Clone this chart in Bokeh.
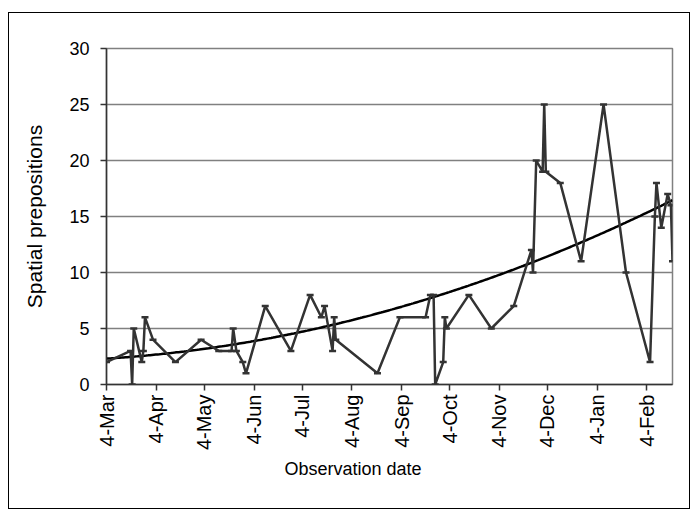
import numpy as np
import pandas as pd
from bokeh.plotting import figure
from bokeh.models import FixedTicker, Range1d, Title
from bokeh.embed import file_html
from bokeh.resources import INLINE

# ---- data ----
dates = [
    "2004-03-04", "2004-03-19", "2004-03-20", "2004-03-21", "2004-03-26", "2004-03-27",
    "2004-03-28", "2004-04-02", "2004-04-16", "2004-05-02", "2004-05-13", "2004-05-21",
    "2004-05-22", "2004-05-24", "2004-05-28", "2004-05-30", "2004-06-11", "2004-06-27",
    "2004-07-09", "2004-07-16", "2004-07-18", "2004-07-23", "2004-07-24", "2004-07-25",
    "2004-08-20", "2004-09-03", "2004-09-19", "2004-09-22", "2004-09-24", "2004-09-25",
    "2004-09-30", "2004-10-01", "2004-10-02", "2004-10-16", "2004-10-30", "2004-11-13",
    "2004-11-24", "2004-11-25", "2004-11-27", "2004-12-01", "2004-12-02", "2004-12-03",
    "2004-12-12", "2004-12-25", "2005-01-08", "2005-01-22", "2005-02-06", "2005-02-09",
    "2005-02-10", "2005-02-13", "2005-02-17", "2005-02-19", "2005-02-20",
]
counts = [
    2, 3, 0, 5, 2, 3,
    6, 4, 2, 4, 3, 3,
    5, 3, 2, 1, 7, 3,
    8, 6, 7, 3, 6, 4,
    1, 6, 6, 8, 8, 0,
    2, 6, 5, 8, 5, 7,
    12, 10, 20, 19, 25, 19,
    18, 11, 25, 10, 2, 15,
    18, 14, 17, 16, 11,
]
tick_dates = ["2004-03-04", "2004-04-04", "2004-05-04", "2004-06-04", "2004-07-04",
              "2004-08-04", "2004-09-04", "2004-10-04", "2004-11-04", "2004-12-04",
              "2005-01-04", "2005-02-04"]
tick_labels = ["4-Mar", "4-Apr", "4-May", "4-Jun", "4-Jul", "4-Aug", "4-Sep",
               "4-Oct", "4-Nov", "4-Dec", "4-Jan", "4-Feb"]
y_ticks = [0, 5, 10, 15, 20, 25, 30]
x_title = "Observation date"
y_title = "Spatial prepositions"

# ---- conversions ----
DAY_MS = 86400000.0
def to_ms(s):
    return pd.Timestamp(s).value / 1e6

x = np.array([to_ms(d) for d in dates])
y = np.array(counts, dtype=float)
tx = [to_ms(d) for d in tick_dates]

# polynomial (order 2) trendline fitted on the data
xd = (x - x[0]) / DAY_MS
coef = np.polyfit(xd, y, 2)
xt_days = np.linspace(xd.min(), xd.max(), 300)
yt = np.polyval(coef, xt_days)
xt = x[0] + xt_days * DAY_MS

FONT = "Liberation Sans"
DARK = "#333333"

p = figure(width=682, height=497, output_backend="svg", toolbar_location=None,
           x_range=Range1d(x.min(), x.max()), y_range=Range1d(0, 30))
p.min_border_left = 97
p.min_border_top = 35
p.min_border_right = 19
p.min_border_bottom = 126
p.margin = (12, 0, 0, 8)
p.styles = {"border": "1px solid black"}
p.background_fill_color = "white"
p.border_fill_color = "white"
p.outline_line_color = "#808080"
p.outline_line_width = 1.5

p.line(xt, yt, line_color="black", line_width=2.5)
p.line(x, y, line_color=DARK, line_width=2.5)
p.scatter(x, y, marker="dash", size=7, line_color=DARK, line_width=2.5)

# axes
p.xaxis.ticker = FixedTicker(ticks=tx)
p.xaxis.major_label_overrides = {t: l for t, l in zip(tx, tick_labels)}
p.xaxis.major_label_orientation = np.pi / 2
p.xaxis.minor_tick_line_color = None
p.yaxis.minor_tick_line_color = None
p.yaxis.ticker = FixedTicker(ticks=y_ticks)
for ax in (p.xaxis, p.yaxis):
    ax.axis_line_color = DARK
    ax.axis_line_width = 1.5
    ax.major_tick_line_color = DARK
    ax.major_tick_line_width = 1.5
    ax.major_tick_out = 6
    ax.major_tick_in = 0
    ax.major_label_text_font = FONT
    ax.major_label_text_color = "black"
    ax.axis_label_text_font = FONT
    ax.axis_label_text_font_style = "normal"
    ax.axis_label_text_color = "black"
p.xaxis.major_label_text_font_size = "20px"
p.yaxis.major_label_text_font_size = "18px"
p.yaxis.axis_label_text_font_size = "21px"
p.yaxis.axis_label = y_title
p.xaxis.major_label_standoff = 4
p.yaxis.major_label_standoff = 11
p.yaxis.axis_label_standoff = 20

# x-axis title: sits left of the frame centre as in the original
p.add_layout(Title(text=x_title, align="left", offset=178, standoff=7,
                   text_font=FONT, text_font_size="18px", text_color="black",
                   text_font_style="normal"), "below")

p.xgrid.grid_line_color = None
p.ygrid.grid_line_color = "#808080"
p.ygrid.grid_line_width = 1.5

open("out.html", "w").write(file_html(p, INLINE))
